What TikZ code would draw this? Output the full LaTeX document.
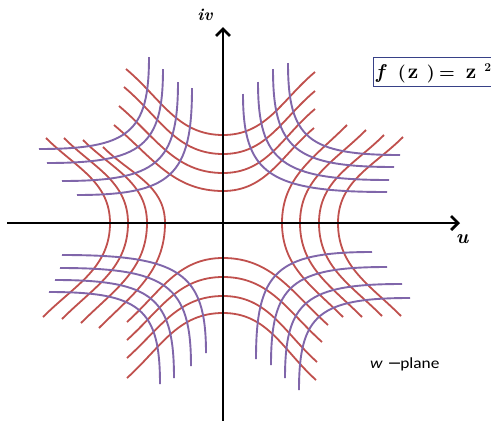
\documentclass[tikz,border=0pt]{standalone}
\usepackage{graphicx}
\usepackage{fontspec}
\newfontfamily\calib{Carlito}
\newfontfamily\dejavu{DejaVu Sans}
\usetikzlibrary{arrows.meta,calc}
\definecolor{cred}{RGB}{192,80,77}
\definecolor{cpur}{RGB}{128,102,170}
\definecolor{cbox}{RGB}{55,65,135}
\tikzset{
  redc/.style={draw=cred, line width=1.8pt},
  purc/.style={draw=cpur, line width=1.9pt},
  axisc/.style={draw=black, line width=2.8pt, -{Straight Barb[length=7pt,width=14pt]}},
  boxst/.style={draw=cbox, line width=1.2pt, inner sep=0pt},
  mathlbl/.style={font=\bfseries\itshape, inner sep=1pt}
}
% purple L-shape: first point carries the vertical arm, second the horizontal arm
\newcommand\purpL[4]{\draw[purc] (#1,#2) .. controls ($(#1,#2)!0.82!(#1,#4)$) and ($(#3,#4)!0.82!(#1,#4)$) .. (#3,#4);}
% red families: vertex, end1, end2
\newcommand\redT[5]{\draw[redc] (#2,#3) to[out=-40,in=180] (223,#1) to[out=0,in=220] (#4,#5);}
\newcommand\redB[5]{\draw[redc] (#2,#3) to[out=42,in=180] (223,#1) to[out=0,in=138] (#4,#5);}
\newcommand\redL[5]{\draw[redc] (#2,#3) to[out=-45,in=90] (#1,223) to[out=-90,in=45] (#4,#5);}
\newcommand\redR[5]{\draw[redc] (#2,#3) to[out=-135,in=90] (#1,223) to[out=-90,in=135] (#4,#5);}
\newcommand\sz[1]{\fontsize{#1}{#1}\selectfont}
\begin{document}
\begin{tikzpicture}[x=1pt,y=-1pt]
\useasboundingbox (0,0) rectangle (491,421);
\fill[white] (0,0) rectangle (491,421);
% red: top family
\redT{135}{126}{69}{315}{72}
\redT{154}{124}{87}{315}{91}
\redT{173}{119}{106}{315}{109}
\redT{191}{114}{125}{314}{128}
% red: bottom family
\redB{258}{127}{322}{328}{325}
\redB{277}{127}{340}{322}{342}
\redB{296}{127}{358}{317}{362}
\redB{313}{127}{378}{316}{380}
% red: left family
\redL{110}{46}{138}{43}{317}
\redL{128}{64}{138}{62}{319}
\redL{147}{83}{140}{81}{323}
\redL{165}{103}{147}{99}{328}
% red: right family
\redR{338}{403}{137}{401}{316}
\redR{319}{384}{135}{382}{316}
\redR{300}{366}{130}{362}{317}
\redR{282}{347}{125}{343}{317}
% purple: upper left
\purpL{149}{57}{39}{149}
\purpL{163}{69}{47}{163}
\purpL{178}{82}{62}{181}
\purpL{192}{88}{77}{195}
% purple: upper right
\purpL{288}{63}{400}{155}
\purpL{273}{69}{394}{167}
\purpL{258}{82}{389}{180}
\purpL{243}{94}{387}{192}
% purple: lower left
\purpL{206}{353}{62}{255}
\purpL{191}{366}{60}{268}
\purpL{174}{378}{55}{280}
\purpL{160}{384}{49}{292}
% purple: lower right
\purpL{256}{359}{372}{252}
\purpL{271}{365}{387}{267}
\purpL{285}{378}{402}{284}
\purpL{299}{390}{410}{298}
% axes
\coordinate (xl) at (7,223);
\coordinate (xr) at (460,223);
\coordinate (yb) at (223,421);
\coordinate (yt) at (223,27);
\draw[axisc] (xl) -- (xr);
\draw[axisc] (yb) -- (yt);
% labels
\node[mathlbl, anchor=base] (iv) at (205,20) {\sz{17}iv};
\node[mathlbl, anchor=base] (u) at (462,243) {\sz{20}u};
\node[boxst, anchor=north west, minimum width=125pt, minimum height=29pt] (fz) at (373,57) {};
\node[anchor=base west, inner sep=0pt, font=\bfseries] (fzt) at (376,78.5) {{\sz{20}\textit{f}}\hspace{11pt}{\sz{18}(}\hspace{2pt}{\sz{21}z}\hspace{8.5pt}{\sz{18})}\hspace{4.5pt}{\sz{18}=}\hspace{11pt}{\sz{21}z}\hspace{8pt}\raisebox{7.5pt}{\sz{12}2}};
\node[anchor=west, inner sep=0pt] (wp) at (370,364) {\scalebox{1.12}[1]{\calib\fontsize{15.5}{18}\selectfont\textit{w}\hspace{4pt}{\dejavu −}\hspace{-1.5pt}plane}};
\end{tikzpicture}
\end{document}
